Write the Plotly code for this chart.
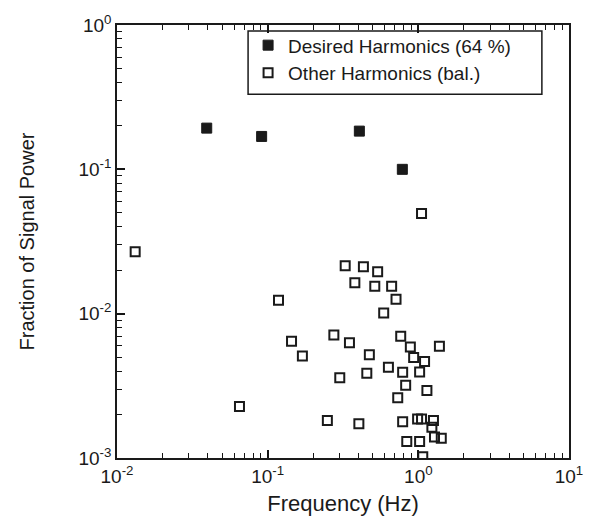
import plotly.graph_objects as go

# Desired harmonics (filled squares)
desired_freq = [0.0394, 0.0912, 0.406, 0.783]
desired_power = [0.193, 0.169, 0.184, 0.100]

# Other harmonics (open squares)
other_freq = [0.0132, 0.065, 0.118, 0.144, 0.170, 0.249, 0.275, 0.301, 0.327, 0.349,
              0.379, 0.403, 0.432, 0.455, 0.473, 0.514, 0.537, 0.589, 0.633, 0.665,
              0.711, 0.730, 0.764, 0.787, 0.787, 0.824, 0.838, 0.885, 0.931, 0.989,
              1.02, 1.02, 1.05, 1.05, 1.07, 1.10, 1.14, 1.23, 1.26, 1.28,
              1.38, 1.42]
other_power = [0.0268, 0.00227, 0.0124, 0.00645, 0.00509, 0.00182, 0.00712, 0.00360, 0.0215, 0.0063,
               0.0164, 0.00173, 0.0211, 0.00387, 0.0052, 0.0155, 0.0195, 0.0101, 0.00425, 0.0155,
               0.0126, 0.00261, 0.00698, 0.00393, 0.00178, 0.00319, 0.00130, 0.00588, 0.00497, 0.00186,
               0.00394, 0.00130, 0.0494, 0.00186, 0.00102, 0.00467, 0.00294, 0.00163, 0.00182, 0.00140,
               0.00595, 0.00137]

x_tickvals = [0.01, 0.1, 1, 10]
x_ticktext = ["10<sup>-2</sup>", "10<sup>-1</sup>", "10<sup>0</sup>", "10<sup>1</sup>"]
y_tickvals = [0.001, 0.01, 0.1, 1]
y_ticktext = ["10<sup>-3</sup>", "10<sup>-2</sup>", "10<sup>-1</sup>", "10<sup>0</sup>"]
x_minor_vals = [m * d for d in (0.01, 0.1, 1) for m in range(2, 10)]
y_minor_vals = [m * d for d in (0.001, 0.01, 0.1) for m in range(2, 10)]

FONT = "Liberation Sans, Arial, Helvetica, sans-serif"
INK = "#1a1a1a"
TICK = "rgb(20,20,20)"

fig = go.Figure()
fig.add_trace(go.Scatter(
    x=desired_freq, y=desired_power, mode="markers",
    name="Desired Harmonics (64 %)",
    marker=dict(symbol="square", size=10, color=INK, line=dict(color=INK, width=1)),
))
fig.add_trace(go.Scatter(
    x=other_freq, y=other_power, mode="markers",
    name="Other Harmonics (bal.)",
    marker=dict(symbol="square-open", size=9, color=INK, line=dict(color=INK, width=2)),
))

axis_common = dict(
    type="log", showgrid=False, zeroline=False,
    showline=True, linecolor=INK, linewidth=1.5,
    ticks="inside", ticklen=8, tickwidth=1.6, tickcolor=TICK,
    tickfont=dict(family=FONT, size=19, color=INK),
)
minor_common = dict(ticks="inside", ticklen=5, tickwidth=1.3, tickcolor=TICK,
                    tickmode="array", showgrid=False)

fig.update_layout(
    xaxis=dict(
        **axis_common, range=[-2, 1], mirror="allticks",
        tickmode="array", tickvals=x_tickvals, ticktext=x_ticktext,
        minor=dict(**minor_common, tickvals=x_minor_vals),
        title=dict(text="Frequency (Hz)", font=dict(family=FONT, size=22, color=INK), standoff=10),
    ),
    yaxis=dict(
        **axis_common, range=[-3, 0], mirror=True,
        tickmode="array", tickvals=y_tickvals, ticktext=y_ticktext,
        minor=dict(**minor_common, tickvals=y_minor_vals),
        title=dict(text="Fraction of Signal Power", font=dict(family=FONT, size=20, color=INK), standoff=38),
    ),
    width=596, height=524,
    margin=dict(l=117, r=27, t=21, b=65),
    paper_bgcolor="white", plot_bgcolor="white",
    font=dict(family=FONT, color=INK),
    legend=dict(
        x=0.29, y=0.997, xanchor="left", yanchor="top",
        bgcolor="rgba(0,0,0,0)", borderwidth=0,
        font=dict(family=FONT, size=19, color=INK),
        itemwidth=30,
    ),
    showlegend=True,
    shapes=[dict(
        type="rect", xref="paper", yref="paper",
        x0=0.29, x1=0.94, y0=0.84, y1=0.986,
        line=dict(color=INK, width=1.5), fillcolor="white", layer="below",
    )],
)

fig.write_html("out.html")
